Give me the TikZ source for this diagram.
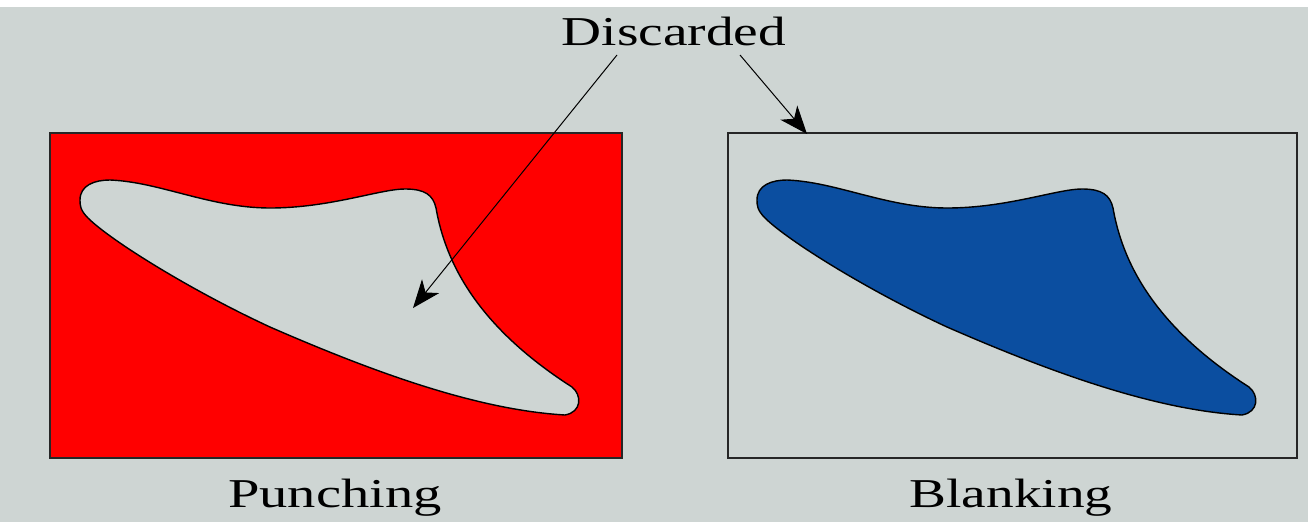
\documentclass[tikz,border=0pt]{standalone}
\usepackage{fontspec}
\setmainfont{Liberation Serif}
\usetikzlibrary{arrows.meta}
\definecolor{bggray}{RGB}{206,213,211}
\definecolor{plred}{RGB}{255,0,0}
\definecolor{plblue}{RGB}{11,78,160}
\tikzset{
  panel/.style={draw=black!85, line width=1.6pt, minimum width=#1, minimum height=325pt, inner sep=0pt, outer sep=0pt},
  blade/.style={draw=black, line width=1.4pt},
  lbl/.style={font=\fontsize{41}{48}\selectfont, anchor=base, inner sep=0pt},
  callout/.style={draw=black, line width=1pt, -{Stealth[length=28pt,width=22pt,inset=8pt]}}
}
\def\bladepath{(80,200) .. controls (80,185) and (95,180) .. (110,180)
 .. controls (160,182) and (210,208) .. (270,208)
 .. controls (330,208) and (380,189) .. (405,189)
 .. controls (425,189) and (433,195) .. (436,208)
 .. controls (445,260) and (475,325) .. (572,387)
 .. controls (582,395) and (582,412) .. (565,415)
 .. controls (480,410) and (380,375) .. (270,327)
 .. controls (190,290) and (110,240) .. (88,218)
 .. controls (80,210) and (80,205) .. (80,200) -- cycle}
\begin{document}
\begin{tikzpicture}[x=1pt,y=-1pt]
\fill[bggray] (0,0) rectangle (1308,522);
\fill[white] (0,0) rectangle (1308,7);
\useasboundingbox (0,0) rectangle (1308,522);
% panels
\node[panel=572pt, fill=plred] (punch) at (336,295.5) {};
\node[panel=569pt] (blank) at (1012.5,295.5) {};
% blades
\filldraw[blade, fill=bggray] \bladepath;
\filldraw[blade, fill=plblue, shift={(677,0)}] \bladepath;
% labels
\node[lbl] (disc) at (674,45) {\scalebox{1.35}[1]{Discarded}};
\node[lbl] (plabel) at (335,507) {\scalebox{1.38}[1]{Punching}};
\node[lbl] (blabel) at (1011,507) {\scalebox{1.35}[1]{Blanking}};
% callouts
\coordinate (s1) at (617,55);
\coordinate (e1) at (413,308);
\coordinate (s2) at (740,55);
\coordinate (e2) at (807,134);
\draw[callout] (s1) -- (e1);
\draw[callout] (s2) -- (e2);
\end{tikzpicture}
\end{document}
